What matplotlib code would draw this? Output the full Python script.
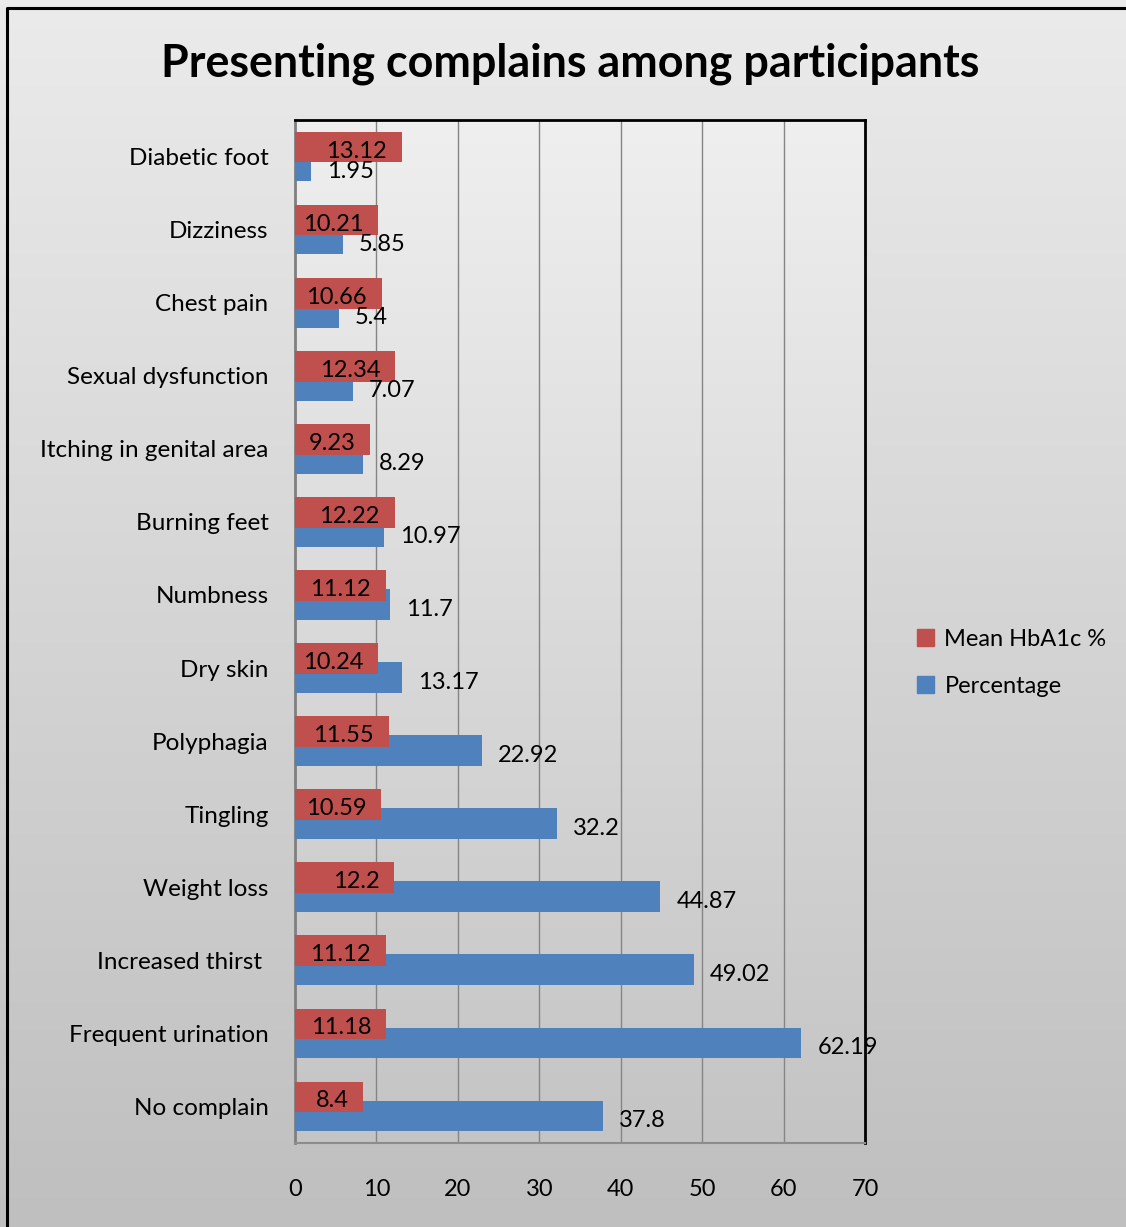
import numpy as np
import matplotlib
matplotlib.use("Agg")
import matplotlib.pyplot as plt
from matplotlib.patches import Patch
from matplotlib.lines import Line2D

plt.rcParams['font.family'] = ['Lato', 'DejaVu Sans']

categories = ['Diabetic foot', 'Dizziness', 'Chest pain', 'Sexual dysfunction',
              'Itching in genital area', 'Burning feet', 'Numbness', 'Dry skin',
              'Polyphagia', 'Tingling', 'Weight loss', 'Increased thirst ',
              'Frequent urination', 'No complain']
hba1c = [13.12, 10.21, 10.66, 12.34, 9.23, 12.22, 11.12, 10.24, 11.55,
         10.59, 12.2, 11.12, 11.18, 8.4]
percentage = [1.95, 5.85, 5.4, 7.07, 8.29, 10.97, 11.7, 13.17, 22.92,
              32.2, 44.87, 49.02, 62.19, 37.8]
xticks = [0, 10, 20, 30, 40, 50, 60, 70]

red = '#C0504D'
blue = '#4F81BD'

W, H = 1126, 1227
fig = plt.figure(figsize=(W / 100, H / 100), dpi=100)

# background gradient for the whole chart
bg = fig.add_axes([0, 0, 1, 1], zorder=-10)
grad = np.linspace(0, 1, 256).reshape(-1, 1)
bg.imshow(grad, aspect='auto', cmap=matplotlib.colors.LinearSegmentedColormap.from_list(
    'g', ['#EBEBEB', '#BFBFBF']), extent=[0, 1, 0, 1], origin='upper')
bg.set_xlim(0, 1)
bg.set_ylim(0, 1)
bg.axis('off')
# outer frame (left and top edges visible)
bg.add_line(Line2D([7 / W, 7 / W, 1.0], [0, 1 - 8 / H, 1 - 8 / H],
                   color='black', lw=2.2, transform=bg.transAxes))

left, right, top, bottom = 295, 865, 120, 1143
ax = fig.add_axes([left / W, 1 - bottom / H, (right - left) / W, (bottom - top) / H])

# subtle shadow behind plot area
shadow = fig.add_axes([(left + 3) / W, 1 - (bottom + 4) / H, (right - left) / W, (bottom - top) / H],
                      zorder=-5)
shadow.set_facecolor('#A8A8A8')
shadow.axis('off')
shadow.patch.set_visible(True)
shadow.patch.set_alpha(0.6)

ax.imshow(grad, aspect='auto', cmap=matplotlib.colors.LinearSegmentedColormap.from_list(
    'p', ['#EFEFEF', '#C4C4C4']), extent=[0, 70, 13.5, -0.5], zorder=0)

y = np.arange(len(categories))
ax.barh(y + 0.13, percentage, height=0.42, color=blue, zorder=3)
ax.barh(y - 0.13, hba1c, height=0.42, color=red, zorder=4)

for i in range(len(categories)):
    ax.annotate(f"{hba1c[i]:g}", (hba1c[i], y[i] - 0.13), xytext=(-15, -4),
                textcoords='offset pixels', ha='right', va='center',
                fontsize=17, zorder=6)
    ax.annotate(f"{percentage[i]:g}", (percentage[i], y[i] + 0.13), xytext=(16, -5),
                textcoords='offset pixels', ha='left', va='center',
                fontsize=17, zorder=6)

ax.set_xlim(0, 70)
ax.set_ylim(13.5, -0.5)
ax.set_xticks(xticks)
ax.set_yticks(y)
ax.set_yticklabels(categories)
ax.tick_params(axis='y', length=0, pad=19, labelsize=17.5)
ax.tick_params(axis='x', length=0, pad=26, labelsize=17)
for xv in xticks[1:-1]:
    ax.axvline(xv, color='#858585', lw=1, zorder=1)

ax.spines['top'].set_color('black')
ax.spines['right'].set_color('black')
ax.spines['top'].set_linewidth(2)
ax.spines['right'].set_linewidth(2)
ax.spines['left'].set_color('#7F7F7F')
ax.spines['left'].set_linewidth(2)
ax.spines['bottom'].set_color('#8C8C8C')
ax.spines['bottom'].set_linewidth(1.5)

fig.text(570 / W, 1 - 64 / H, 'Presenting complains among participants',
         ha='center', va='center', fontsize=32.3, fontweight='bold')

handles = [Patch(color=red, label='Mean HbA1c %'), Patch(color=blue, label='Percentage')]
fig.legend(handles=handles, loc='center left', bbox_to_anchor=(896 / W, 1 - 663 / H),
           frameon=False, fontsize=17, handlelength=0.7, handleheight=0.7,
           handletextpad=0.45, labelspacing=1.1)

fig.savefig('out.png', dpi=100)
